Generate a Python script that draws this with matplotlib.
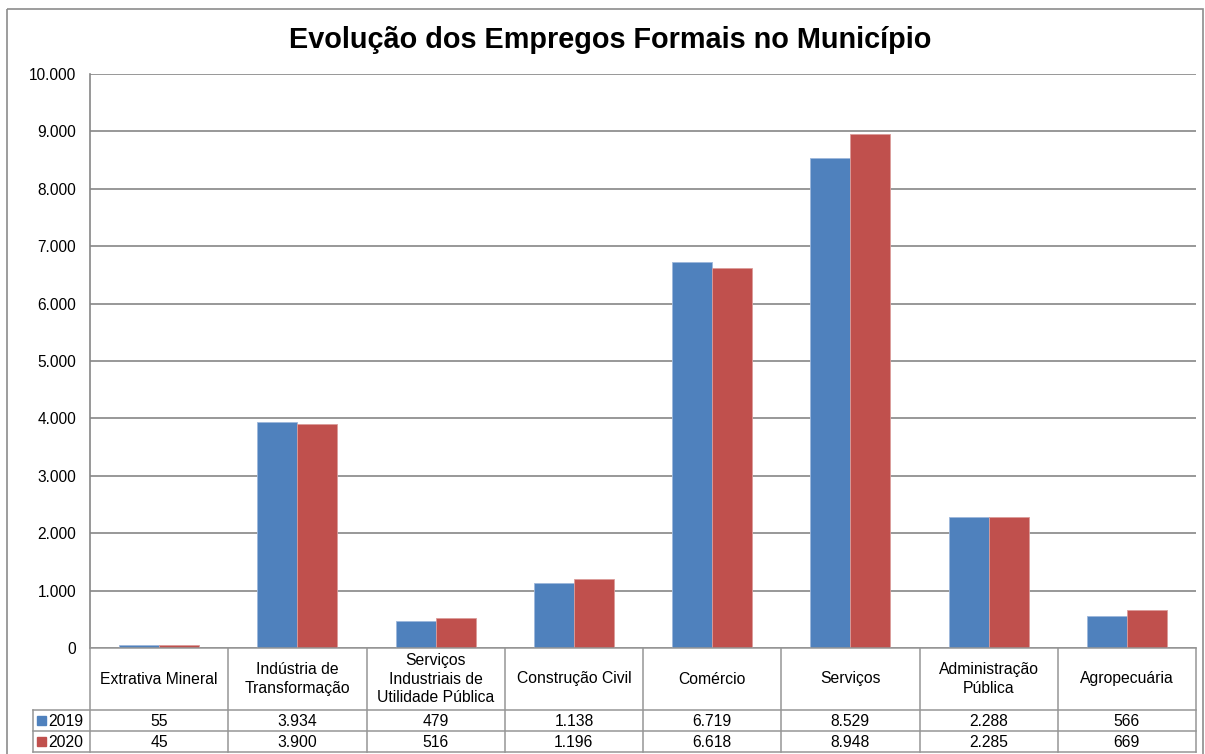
import matplotlib.pyplot as plt
import matplotlib.patches as mpatches
import numpy as np

plt.rcParams['font.family'] = ['Liberation Sans', 'DejaVu Sans']

categories = ['Extrativa Mineral', 'Indústria de\nTransformação',
              'Serviços\nIndustriais de\nUtilidade Pública', 'Construção Civil',
              'Comércio', 'Serviços', 'Administração\nPública', 'Agropecuária']
years = ['2019', '2020']
vals_2019 = [55, 3934, 479, 1138, 6719, 8529, 2288, 566]
vals_2020 = [45, 3900, 516, 1196, 6618, 8948, 2285, 669]
yticks = np.arange(0, 10001, 1000)

blue = '#4F81BD'
red = '#C0504D'
grid = '#868686'

W, H = 1205, 754
fig = plt.figure(figsize=(W / 100, H / 100), dpi=100)

# pixel layout
left, right, top, bottom = 90, 1196, 74, 648
ax = fig.add_axes([left / W, 1 - bottom / H, (right - left) / W, (bottom - top) / H])

x = np.arange(len(categories))
bw = 0.29
ax.bar(x - bw / 2, vals_2019, bw, color=blue, edgecolor='#9DB7DB', linewidth=0.6, zorder=3)
ax.bar(x + bw / 2, vals_2020, bw, color=red, edgecolor='#DB9C9A', linewidth=0.6, zorder=3)

ax.set_xlim(-0.5, len(categories) - 0.5)
ax.set_ylim(0, 10000)
ax.set_yticks(yticks)
ax.set_yticklabels([f'{v:,}'.replace(',', '.') for v in yticks], fontsize=11.2)
ax.tick_params(axis='y', length=0, pad=10)
ax.set_xticks([])
ax.grid(axis='y', color=grid, linewidth=1.2, zorder=0)
for s in ['top', 'right', 'bottom']:
    ax.spines[s].set_visible(False)
ax.spines['left'].set_color(grid)
ax.spines['left'].set_linewidth(1.2)

# overlay in pixel coordinates for table, title and border
ov = fig.add_axes([0, 0, 1, 1], zorder=5)
ov.set_xlim(0, W)
ov.set_ylim(H, 0)
ov.axis('off')
ov.patch.set_alpha(0)

ov.add_patch(mpatches.Rectangle((7, 9), 1196, 760, fill=False, edgecolor='#8C8C8C', linewidth=1.2))
ov.text(610, 40, 'Evolução dos Empregos Formais no Município', ha='center', va='center',
        fontsize=20.8, fontweight='bold')

colw = (right - left) / len(categories)
leg_left = 33
r1, r2, r3 = 710, 731, 752
lc = '#969696'
lw = 1.1
ov.plot([left, right], [bottom, bottom], color=lc, lw=lw)
for yy in [r1, r2, r3]:
    ov.plot([leg_left, right], [yy, yy], color=lc, lw=lw)
for i in range(len(categories) + 1):
    xx = left + i * colw
    ov.plot([xx, xx], [bottom, r3], color=lc, lw=lw)
ov.plot([leg_left, leg_left], [r1, r3], color=lc, lw=lw)

fs = 11.3
for i, cat in enumerate(categories):
    cx = left + (i + 0.5) * colw
    ov.text(cx, (bottom + r1) / 2, cat, ha='center', va='center', fontsize=fs, linespacing=1.27)
    ov.text(cx, (r1 + r2) / 2 + 1, f'{vals_2019[i]:,}'.replace(',', '.'), ha='center', va='center', fontsize=fs)
    ov.text(cx, (r2 + r3) / 2 + 1, f'{vals_2020[i]:,}'.replace(',', '.'), ha='center', va='center', fontsize=fs)

for (yy0, yy1), yr, c in [((r1, r2), years[0], blue), ((r2, r3), years[1], red)]:
    cy = (yy0 + yy1) / 2
    ov.add_patch(mpatches.Rectangle((37, cy - 4.5), 9, 9, color=c))
    ov.text(48, cy + 1, yr, ha='left', va='center', fontsize=fs)

fig.savefig('out.png', dpi=100)
